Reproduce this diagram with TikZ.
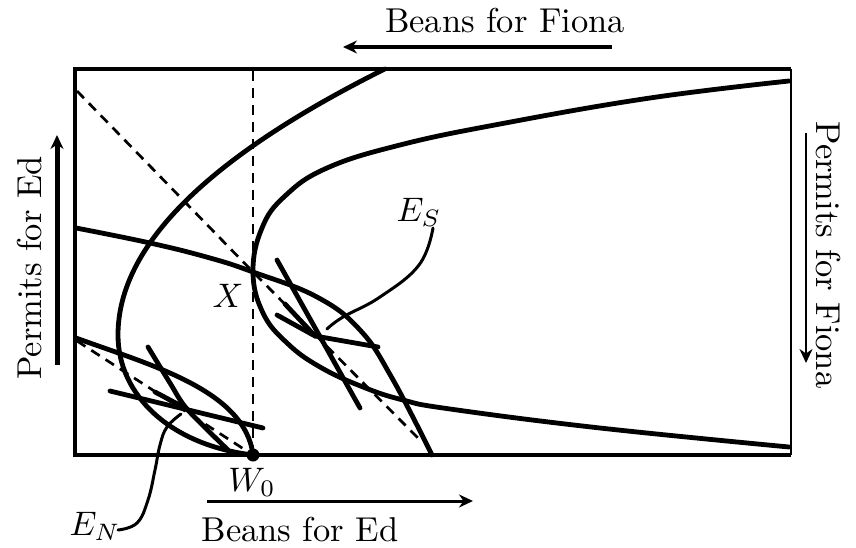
\documentclass[tikz,border=0pt]{standalone}
\usepackage{graphicx}
\usetikzlibrary{arrows.meta}
\newcommand{\bigmath}[1]{\scalebox{3.4}{$#1$}}
\newcommand{\bigtext}[1]{\scalebox{3.45}{#1}}
\begin{document}
\begin{tikzpicture}[x=1pt,y=-1pt,
  curve/.style={line width=4.8pt, line cap=round, line join=round},
  dashline/.style={line width=2.7pt, dash pattern=on 10pt off 7pt},
  starline/.style={line width=4.8pt, line cap=round},
  leader/.style={line width=3pt, line cap=round},
  lbl/.style={font=\fontsize{10}{12}\selectfont, inner sep=0pt},
  axarrow/.style={-{Stealth[length=14pt,width=13pt]}}
]
\useasboundingbox (0,0) rectangle (856,548);

% key points
\coordinate (W0) at (253,455);
\coordinate (X) at (253,272);
\coordinate (BL) at (75,455);
\coordinate (TL) at (75,69);
\coordinate (TR) at (791,69);
\coordinate (BR) at (791,455);

% box
\draw[line width=4pt, line join=miter] (BR) -- (BL) -- (TL) -- (TR);
\draw[line width=2.7pt] (TR) -- (BR);

% dashed lines
\draw[dashline] (253,71) -- (W0);
\draw[dashline] (77,91) -- (X) -- (420,440);
\draw[dashline] (77,341) -- (W0);

% curve A (through W0, big arc opening right)
\draw[curve] plot[domain=69:335, samples=80] ({(0.0614*(\x-335))^2+118},{\x})
  .. controls (118,395) and (170,445) .. (W0);

% curve B (through X, opening right)
\draw[curve] plot[smooth, tension=0.7] coordinates {(789,81) (650,98) (500,124) (400,145) (327,168) (285,196) (262,228) (X) (263,313) (287,343) (320,367) (363,387) (403,400) (450,409) (600,428) (789,447)};

% curve C (Ed through X)
\draw[curve] plot[smooth, tension=0.7] coordinates {(76,228) (150,243) (210,258) (X) (317,297) (360,330) (392,378) (432,455)};

% curve D (Ed through W0)
\draw[curve] (76,338) .. controls (150,365) and (245,390) .. (W0);

% marks at E_S
\coordinate (ES) at (315,336);
\draw[starline] (277,260) -- (360,408);
\draw[starline] (277,315) -- (ES) -- (378,347);
\draw[starline] (285,304) -- (ES);

% marks at E_N
\coordinate (EN) at (187,409);
\draw[starline] plot[smooth] coordinates {(148,347) (170,383) (EN) (228,450)};
\draw[starline] (110,391) -- (263,428);
\draw[starline] (155,392) -- (EN);

% W0 dot
\fill (W0) circle (6.5pt);

% labels
\node[lbl] (lX) at (228,296) {\bigmath{X}};
\node[lbl] (lW) at (252,482) {\bigmath{W_0}};
\node[lbl] (lES) at (419,212) {\bigmath{E_S}};
\node[lbl] (lEN) at (95,526) {\bigmath{E_N}};

% leaders
\draw[leader] plot[smooth, tension=0.7] coordinates {(433,228) (419,265) (380,297) (343,317) (327,329)};
\draw[leader] plot[smooth, tension=0.7] coordinates {(118,530) (137,523) (148,500) (155,470) (160,445) (167,427) (181,414)};

% axis labels and arrows
\node[lbl] (tF) at (505,21) {\bigtext{Beans for Fiona}};
\coordinate (aF1) at (612,47);
\coordinate (aF2) at (343,47);
\draw[axarrow, line width=4.5pt] (aF1) -- (aF2);

\node[lbl] (tE) at (300,530) {\bigtext{Beans for Ed}};
\coordinate (aE1) at (207,501);
\coordinate (aE2) at (473,501);
\draw[axarrow, line width=3pt] (aE1) -- (aE2);

\node[lbl, rotate=90] (tPE) at (30,268) {\bigtext{Permits for Ed}};
\coordinate (aP1) at (57,365);
\coordinate (aP2) at (57,135);
\draw[axarrow, line width=5pt] (aP1) -- (aP2);

\node[lbl, rotate=-90] (tPF) at (828,255) {\bigtext{Permits for Fiona}};
\coordinate (aQ1) at (806,133);
\coordinate (aQ2) at (806,363);
\draw[axarrow, line width=2.7pt] (aQ1) -- (aQ2);
\end{tikzpicture}
\end{document}
